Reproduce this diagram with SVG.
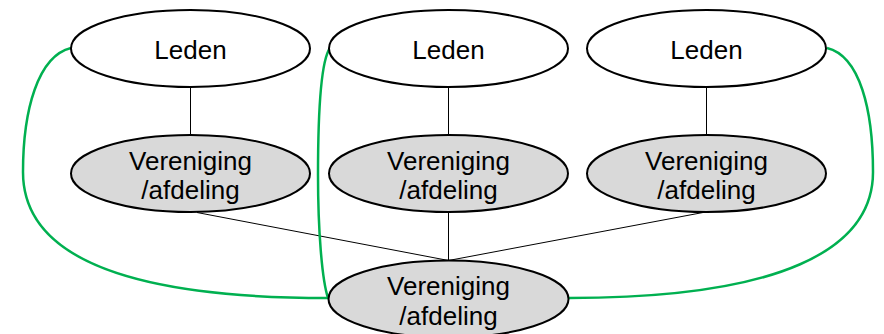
<svg xmlns="http://www.w3.org/2000/svg" width="884" height="334" viewBox="0 0 884 334">
<style>
.lid{fill:#fff;stroke:#000;stroke-width:2}
.ver{fill:#d9d9d9;stroke:#000;stroke-width:2}
.t{font-family:"Liberation Sans",Arial,sans-serif;font-size:26px;fill:#000;text-anchor:middle}
.ln{stroke:#000;stroke-width:1;fill:none}
.gr{stroke:#00b050;stroke-width:2.5;fill:none}
</style>
<rect width="884" height="334" fill="#fff"/>
<g id="connectors">
<line class="ln" x1="190.5" y1="87" x2="190.5" y2="135"/>
<line class="ln" x1="448.5" y1="87" x2="448.5" y2="135"/>
<line class="ln" x1="706.5" y1="87" x2="706.5" y2="135"/>
<line class="ln" x1="197" y1="212.5" x2="448.5" y2="260.5"/>
<line class="ln" x1="448.5" y1="212" x2="448.5" y2="260.5"/>
<line class="ln" x1="703" y1="212.5" x2="448.5" y2="260.5"/>
<path class="gr" d="M71,48 C38,56 23,110 23,172 C23,250 110,298 328,298"/>
<path class="gr" d="M330,48 C320,62 318,120 318,175 C318,230 322,280 328,298"/>
<path class="gr" d="M827,48 C860,56 873,110 873,172 C873,250 780,298 569,298"/>
</g>
<g id="leden1"><ellipse class="lid" cx="190.5" cy="48.5" rx="119.5" ry="38.5"/><text class="t" x="190.5" y="59">Leden</text></g>
<g id="leden2"><ellipse class="lid" cx="448.5" cy="48.5" rx="119.5" ry="38.5"/><text class="t" x="448.5" y="59">Leden</text></g>
<g id="leden3"><ellipse class="lid" cx="706.5" cy="48.5" rx="119.5" ry="38.5"/><text class="t" x="706.5" y="59">Leden</text></g>
<g id="ver1"><ellipse class="ver" cx="190.5" cy="173.5" rx="119.5" ry="38.5"/><text class="t" x="190.5" y="169.5">Vereniging</text><text class="t" x="190.5" y="199">/afdeling</text></g>
<g id="ver2"><ellipse class="ver" cx="448.5" cy="173.5" rx="119.5" ry="38.5"/><text class="t" x="448.5" y="169.5">Vereniging</text><text class="t" x="448.5" y="199">/afdeling</text></g>
<g id="ver3"><ellipse class="ver" cx="706.5" cy="173.5" rx="119.5" ry="38.5"/><text class="t" x="706.5" y="169.5">Vereniging</text><text class="t" x="706.5" y="199">/afdeling</text></g>
<g id="ver4"><ellipse class="ver" cx="448.5" cy="299" rx="120" ry="38.5"/><text class="t" x="448.5" y="295">Vereniging</text><text class="t" x="448.5" y="324.5">/afdeling</text></g>
</svg>
